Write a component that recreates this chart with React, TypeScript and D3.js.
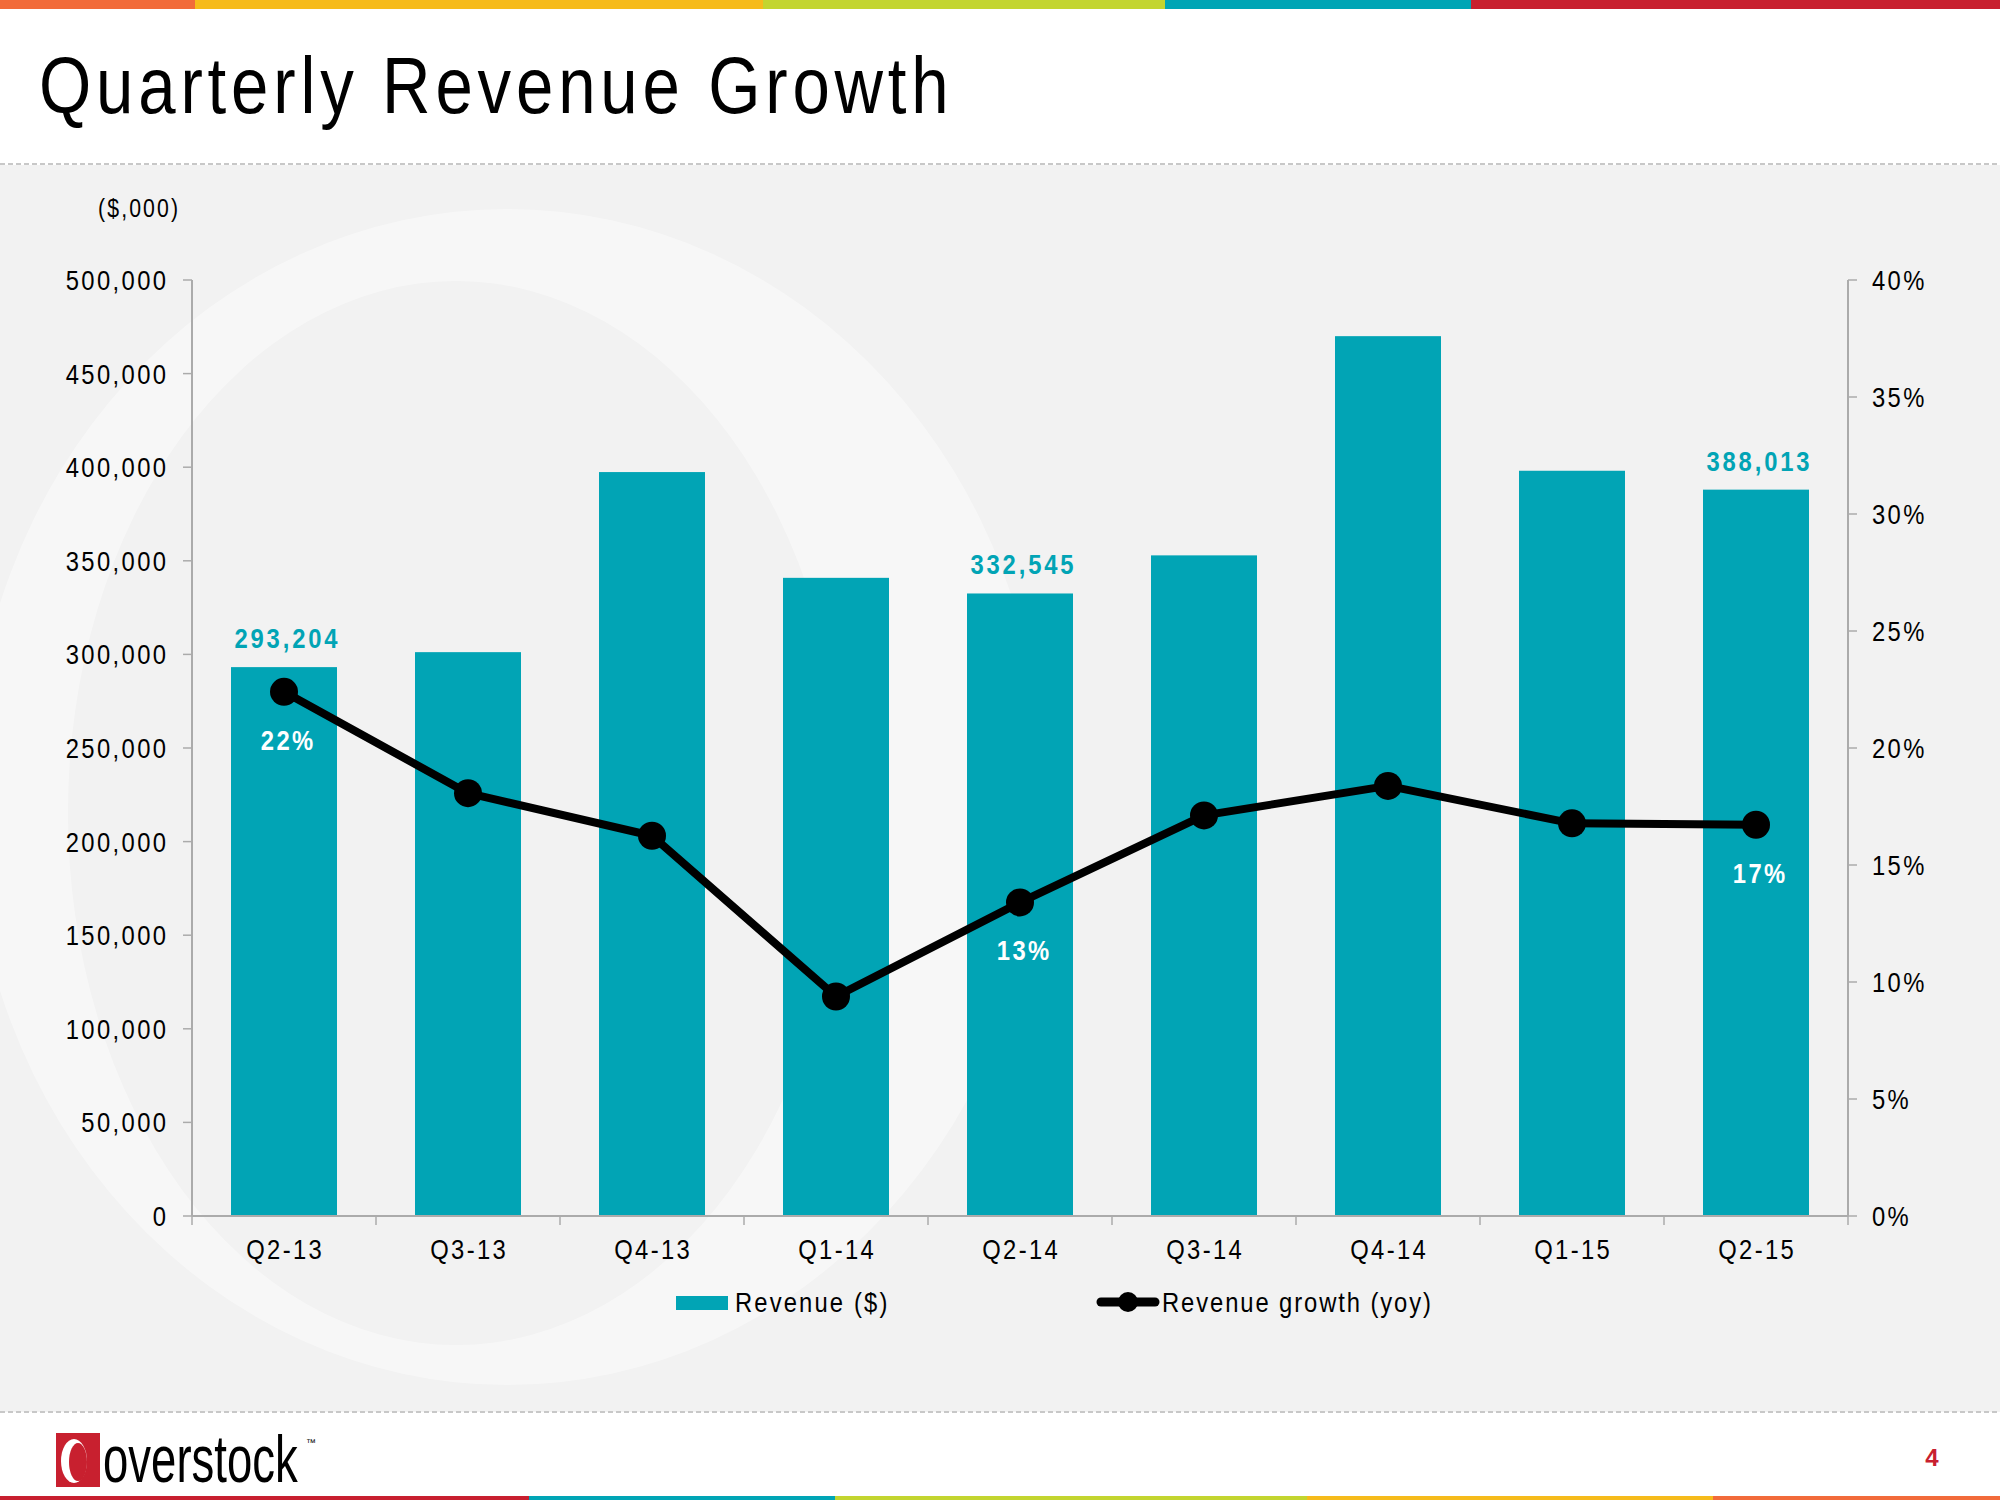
import React from "react";
import * as d3 from "d3";

const categories = ["Q2-13", "Q3-13", "Q4-13", "Q1-14", "Q2-14", "Q3-14", "Q4-14", "Q1-15", "Q2-15"];
const revenue = [293204, 301200, 397400, 340900, 332545, 352900, 470000, 398100, 388013];
const growth = [22.4, 18.07, 16.25, 9.38, 13.4, 17.12, 18.38, 16.78, 16.72];
const revenueTicks = [0, 50000, 100000, 150000, 200000, 250000, 300000, 350000, 400000, 450000, 500000];
const growthTicks = [0, 5, 10, 15, 20, 25, 30, 35, 40];
const valueLabelIdx = [0, 4, 8];
const growthLabelIdx = [0, 4, 8];
const growthLabelText = ["22%", "13%", "17%"];
const topBar = [
  { from: 0, to: 195, color: "#F26B3A" },
  { from: 195, to: 763, color: "#F6BB1B" },
  { from: 763, to: 1165, color: "#C3D52F" },
  { from: 1165, to: 1471, color: "#00A5B5" },
  { from: 1471, to: 2000, color: "#C8202F" },
];
const bottomBar = [
  { from: 0, to: 529, color: "#C8202F" },
  { from: 529, to: 835, color: "#00A5B5" },
  { from: 835, to: 1307, color: "#C3D52F" },
  { from: 1307, to: 1713, color: "#F6BB1B" },
  { from: 1713, to: 2000, color: "#F26B3A" },
];

const TEAL = "#01A4B5";
const FONT = "'Liberation Sans', Arial, sans-serif";
const AXIS = "#ababab";
const SX = 0.85;

function ST(props: any) {
  const { x, y, fs, anchor = "start", weight = "normal", fill = "#000", ls = 0.1, dy, children } = props;
  const spacing = ls * fs;
  const shift = anchor === "end" ? spacing * SX : anchor === "middle" ? (spacing * SX) / 2 : 0;
  return (
    <text
      transform={`translate(${x + shift},${y}) scale(${SX},1)`}
      fontSize={fs}
      fontWeight={weight}
      fill={fill}
      textAnchor={anchor}
      letterSpacing={spacing}
      dy={dy}
    >
      {children}
    </text>
  );
}

export default function App() {
  const left = 192, right = 1848, top = 280, bottom = 1216;
  const x = d3.scaleBand<string>().domain(categories).range([left, right]).paddingInner(0.424).paddingOuter(0.212);
  const xEdge = d3.scaleBand<string>().domain(categories).range([left, right]);
  const yL = d3.scaleLinear().domain([0, 500000]).range([bottom, top]);
  const yR = d3.scaleLinear().domain([0, 40]).range([bottom, top]);
  const cx = (i: number) => (x(categories[i]) as number) + x.bandwidth() / 2;
  const line = d3.line<number>().x((_, i) => cx(i)).y((d) => yR(d));
  const fmt = d3.format(",");

  const outer = { cx: 507, cy: 797, rx: 537, ry: 588 };
  const inner = { cx: 456, cy: 813, rx: 388, ry: 532 };
  const ell = (e: any) =>
    `M${e.cx - e.rx},${e.cy} a${e.rx},${e.ry} 0 1,0 ${2 * e.rx},0 a${e.rx},${e.ry} 0 1,0 ${-2 * e.rx},0 Z`;

  return (
    <svg width={2000} height={1500} style={{ position: "absolute", left: 0, top: 0, background: "#fff" }} fontFamily={FONT}>
      <defs>
        <clipPath id="grayClip">
          <rect x={0} y={165} width={2000} height={1247} />
        </clipPath>
      </defs>
      <rect x={0} y={0} width={2000} height={1500} fill="#fff" />
      {topBar.map((b, i) => (
        <rect key={"t" + i} x={b.from} y={0} width={b.to - b.from} height={9} fill={b.color} />
      ))}
      <ST x={39} y={113} fs={79} ls={0.072}>Quarterly Revenue Growth</ST>
      <rect x={0} y={165} width={2000} height={1247} fill="#f2f2f2" />
      <line x1={0} x2={2000} y1={164} y2={164} stroke="#c8c8c8" strokeWidth={2} strokeDasharray="5,3" />
      <line x1={0} x2={2000} y1={1412} y2={1412} stroke="#c8c8c8" strokeWidth={2} strokeDasharray="5,3" />
      <g clipPath="url(#grayClip)">
        <path d={ell(outer) + " " + ell(inner)} fillRule="evenodd" fill="#ffffff" opacity={0.4} />
      </g>

      <ST x={98} y={217} fs={25}>($,000)</ST>

      {/* bars */}
      {revenue.map((v, i) => (
        <rect key={"b" + i} x={x(categories[i])} y={yL(v)} width={x.bandwidth()} height={bottom - yL(v)} fill={TEAL} />
      ))}

      {/* left axis */}
      <line x1={left} x2={left} y1={top} y2={bottom} stroke={AXIS} strokeWidth={2} />
      {revenueTicks.map((t) => (
        <g key={"l" + t}>
          <line x1={left - 9} x2={left} y1={yL(t)} y2={yL(t)} stroke={AXIS} strokeWidth={1.5} />
          <ST x={166} y={yL(t) + 10} anchor="end" fs={28}>
            {fmt(t)}
          </ST>
        </g>
      ))}
      {/* right axis */}
      <line x1={right} x2={right} y1={top} y2={bottom} stroke={AXIS} strokeWidth={2} />
      {growthTicks.map((t) => (
        <g key={"r" + t}>
          <line x1={right} x2={right + 9} y1={yR(t)} y2={yR(t)} stroke={AXIS} strokeWidth={1.5} />
          <ST x={1872} y={yR(t) + 10} fs={28}>
            {t + "%"}
          </ST>
        </g>
      ))}
      {/* x axis */}
      <line x1={left} x2={right} y1={bottom} y2={bottom} stroke={AXIS} strokeWidth={2} />
      {categories.map((c, i) => (
        <line key={"xt" + i} x1={xEdge(c)} x2={xEdge(c)} y1={bottom} y2={bottom + 9} stroke={AXIS} strokeWidth={1.5} />
      ))}
      <line x1={right} x2={right} y1={bottom} y2={bottom + 9} stroke={AXIS} strokeWidth={1.5} />
      {categories.map((c, i) => (
        <ST key={"xl" + i} x={cx(i)} y={1259} anchor="middle" fs={28}>
          {c}
        </ST>
      ))}

      {/* growth line */}
      <path d={line(growth) as string} fill="none" stroke="#000" strokeWidth={8} strokeLinejoin="round" />
      {growth.map((g, i) => (
        <circle key={"p" + i} cx={cx(i)} cy={yR(g)} r={14} fill="#000" />
      ))}

      {/* value labels */}
      {valueLabelIdx.map((i) => (
        <ST key={"v" + i} x={cx(i) + 2} y={yL(revenue[i]) - 19} anchor="middle" fs={28} weight="bold" ls={0.12} fill={TEAL}>
          {fmt(revenue[i])}
        </ST>
      ))}
      {growthLabelIdx.map((i, k) => (
        <ST key={"g" + i} x={cx(i) + 3} y={yR(growth[i]) + 58} anchor="middle" fs={28} weight="bold" ls={0.1} fill="#fff">
          {growthLabelText[k]}
        </ST>
      ))}

      {/* legend */}
      <rect x={676} y={1296} width={52} height={14} fill={TEAL} />
      <ST x={735} y={1312} fs={28} ls={0.09}>Revenue ($)</ST>
      <line x1={1101} x2={1155} y1={1302} y2={1302} stroke="#000" strokeWidth={9} strokeLinecap="round" />
      <circle cx={1128} cy={1302} r={10} fill="#000" />
      <ST x={1162} y={1312} fs={28} ls={0.08}>Revenue growth (yoy)</ST>

      {/* footer */}
      <rect x={56} y={1433} width={44} height={54} fill="#C8202F" />
      <ellipse cx={74} cy={1461} rx={13} ry={22} fill="#fff" />
      <ellipse cx={78} cy={1462} rx={9} ry={19} fill="#C8202F" />
      <text transform="translate(103,1482) scale(0.69,1)" fontSize={66} fill="#000">overstock</text>
      <text x={306} y={1446} fontSize={10} fill="#000">™</text>
      <text x={1932} y={1466} fontSize={24} fontWeight="bold" fill="#C8202F" textAnchor="middle">4</text>
      {bottomBar.map((b, i) => (
        <rect key={"bb" + i} x={b.from} y={1496} width={b.to - b.from} height={4} fill={b.color} />
      ))}
    </svg>
  );
}
